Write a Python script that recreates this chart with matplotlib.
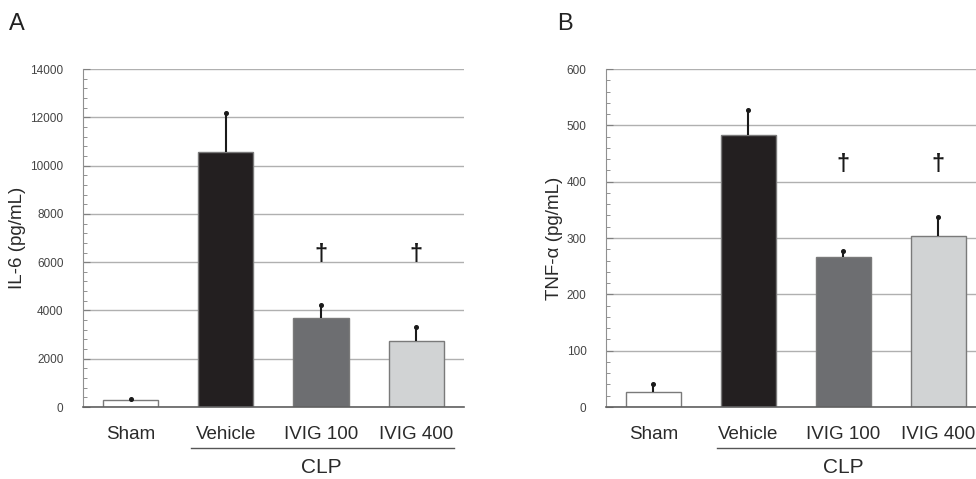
import matplotlib
matplotlib.use("Agg")
import matplotlib.pyplot as plt
from matplotlib.ticker import MultipleLocator

plt.rcParams['font.family'] = ['Liberation Sans', 'DejaVu Sans']

categories = ["Sham", "Vehicle", "IVIG 100", "IVIG 400"]
il6_values = [300, 10550, 3680, 2750]
il6_errors = [50, 1630, 540, 560]
tnf_values = [27, 483, 266, 303]
tnf_errors = [13, 45, 11, 34]
dagger_groups = [2, 3]
il6_dagger_y = 6300
tnf_dagger_y = 430
group_label = "CLP"
bar_colors = ["#ffffff", "#231f20", "#6d6e71", "#d1d3d4"]

fig = plt.figure(figsize=(9.76, 4.79), dpi=100)
axA = fig.add_axes([0.085, 0.1503, 0.3904, 0.7056])
axB = fig.add_axes([0.6209, 0.1503, 0.3893, 0.7056])


def draw(ax, values, errors, ylabel, ymax, major, minor, dagger_y, line_x0, line_x1):
    x = list(range(len(categories)))
    ax.bar(x, values, width=0.58, color=bar_colors, edgecolor="#7a7a7a",
           linewidth=1.0, zorder=2)
    ax.errorbar(x, values, yerr=[[0] * len(errors), errors], fmt="none",
                ecolor="#1a1a1a", elinewidth=1.5, capsize=0, zorder=3)
    tops = [v + e for v, e in zip(values, errors)]
    ax.plot(x, tops, linestyle="none", marker="o", markersize=2.6,
            color="#1a1a1a", zorder=4)
    for g in dagger_groups:
        ax.text(g, dagger_y, "†", ha="center", va="center", fontsize=17,
                fontweight="bold", color="#1a1a1a")
    ax.set_xlim(-0.5, 3.5)
    ax.set_ylim(0, ymax)
    ax.yaxis.set_major_locator(MultipleLocator(major))
    ax.yaxis.set_minor_locator(MultipleLocator(minor))
    ax.grid(axis="y", which="major", color="#b0b0b0", linewidth=1.0)
    ax.set_axisbelow(True)
    for s in ["top", "right"]:
        ax.spines[s].set_visible(False)
    ax.spines["left"].set_color("#909090")
    ax.spines["bottom"].set_color("#606060")
    ax.spines["bottom"].set_linewidth(1.2)
    ax.tick_params(axis="y", which="both", direction="in", color="#808080",
                   labelsize=8.5, labelcolor="#444444", pad=14)
    ax.tick_params(axis="y", which="major", length=5)
    ax.tick_params(axis="y", which="minor", length=3)
    ax.set_xticks(x)
    ax.set_xticklabels(categories, fontsize=13.5, color="#2a2a2a")
    ax.tick_params(axis="x", length=0, pad=14)
    ax.set_ylabel(ylabel, fontsize=13.5, color="#2a2a2a", labelpad=3)
    tr = ax.get_xaxis_transform()
    ax.plot([line_x0, line_x1], [-0.121, -0.121], transform=tr,
            color="#555555", linewidth=1.0, clip_on=False)
    ax.text(2, -0.18, group_label, transform=tr, ha="center", va="center",
            fontsize=15, color="#2a2a2a")


draw(axA, il6_values, il6_errors, "IL-6 (pg/mL)", 14000, 2000, 400,
     il6_dagger_y, 0.63, 3.40)
draw(axB, tnf_values, tnf_errors, "TNF-α (pg/mL)", 600, 100, 20,
     tnf_dagger_y, 0.67, 3.45)

fig.text(0.009, 0.95, "A", fontsize=17, color="#222222", va="center")
fig.text(0.571, 0.95, "B", fontsize=17, color="#222222", va="center")

fig.savefig("out.png", dpi=100)
